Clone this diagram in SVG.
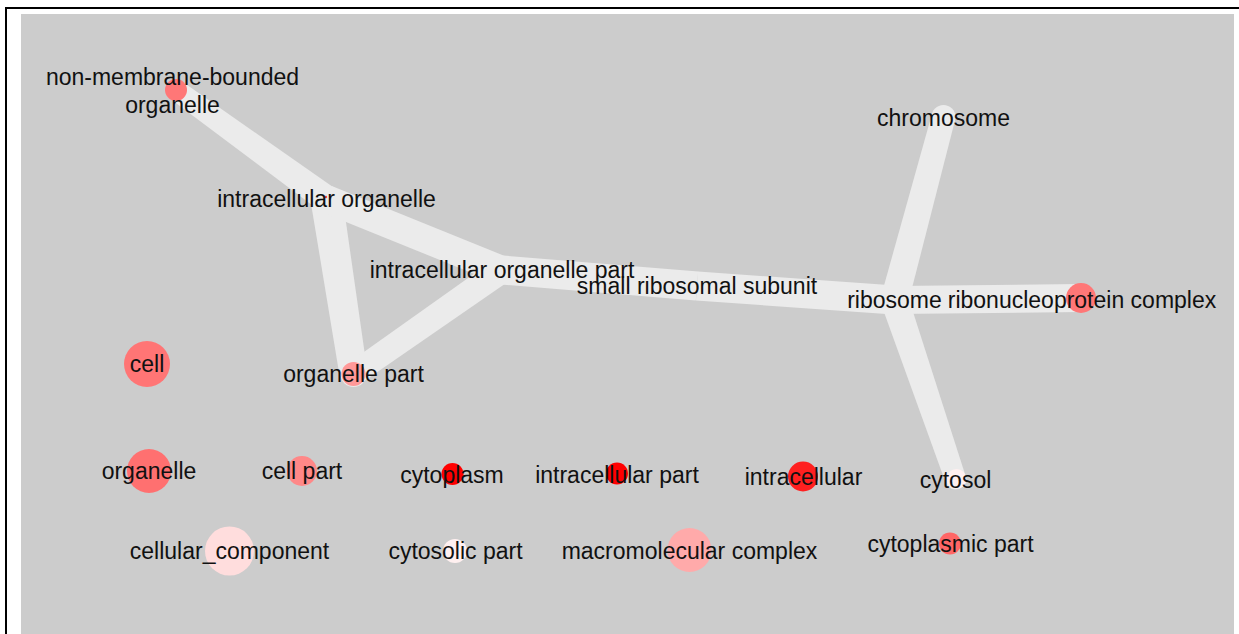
<svg xmlns="http://www.w3.org/2000/svg" width="1239" height="634" viewBox="0 0 1239 634">
  <style>
    .edge { fill: #ebebeb; stroke: none; }
    .lbl { font-family: "Liberation Sans", Arial, sans-serif; font-size: 23px; fill: #111111; text-anchor: middle; }
  </style>

  <!-- frame and canvas -->
  <rect x="6" y="8" width="1240" height="640" fill="#ffffff" stroke="#000000" stroke-width="2"/>
  <rect x="21" y="14" width="1213" height="630" fill="#cccccc"/>

  <!-- connectors: tapered bands, wider toward the hub nodes -->
  <g id="edges">
    <!-- non-membrane-bounded organelle - intracellular organelle -->
    <polygon class="edge" points="182.16,81.49 334.42,188.06 318.58,209.94 169.84,98.51"/>
    <circle class="edge" cx="176" cy="90" r="10.5"/>
    <!-- intracellular organelle - organelle part -->
    <polygon class="edge" points="310.69,201.44 342.31,196.56 367.34,371.86 339.66,376.14"/>
    <!-- intracellular organelle - intracellular organelle part -->
    <polygon class="edge" points="331.75,186.02 507.25,257.02 496.75,282.98 321.25,211.98"/>
    <!-- intracellular organelle part - organelle part -->
    <polygon class="edge" points="494.54,259.35 509.46,280.65 360.38,383.83 346.62,364.17"/>
    <circle class="edge" cx="353.5" cy="374" r="13"/>
    <!-- intracellular organelle part - small ribosomal subunit -->
    <polygon class="edge" points="503.19,255.55 698.19,271.55 695.81,300.45 500.81,284.45"/>
    <!-- small ribosomal subunit - ribosome -->
    <polygon class="edge" points="698.03,271.54 895.53,285.54 893.47,314.46 695.97,300.46"/>
    <!-- ribosome - ribonucleoprotein complex -->
    <polygon class="edge" points="894.35,286 1080.85,284 1081.15,312 894.65,314"/>
    <!-- chromosome - ribosome -->
    <polygon class="edge" points="931.91,113.9 955.09,120.1 908.02,303.62 880.98,296.38"/>
    <circle class="edge" cx="943.5" cy="117" r="12"/>
    <!-- ribosome - cytosol -->
    <polygon class="edge" points="881.25,304.52 907.75,295.48 965.44,475.61 945.56,482.39"/>
    <circle class="edge" cx="955.5" cy="479" r="10.5"/>
  </g>

  <!-- nodes -->
  <g id="node-non-membrane-bounded-organelle">
    <circle cx="176" cy="90" r="11" fill="#ff7777"/>
    <text class="lbl" x="172.5" y="85">non-membrane-bounded</text>
    <text class="lbl" x="172.5" y="113">organelle</text>
  </g>
  <g id="node-intracellular-organelle">
    <circle cx="326" cy="197" r="1.2" fill="#ff4444"/>
    <text class="lbl" x="326.5" y="207">intracellular organelle</text>
  </g>
  <g id="node-organelle-part">
    <circle cx="353.5" cy="374" r="12" fill="#ff9999"/>
    <text class="lbl" x="353.5" y="382">organelle part</text>
  </g>
  <g id="node-intracellular-organelle-part">
    <text class="lbl" x="502" y="278">intracellular organelle part</text>
  </g>
  <g id="node-small-ribosomal-subunit">
    <text class="lbl" x="697" y="294">small ribosomal subunit</text>
  </g>
  <g id="node-ribosome">
    <text class="lbl" x="894.5" y="308">ribosome</text>
  </g>
  <g id="node-ribonucleoprotein-complex">
    <circle cx="1081" cy="298" r="15" fill="#ff7777"/>
    <text class="lbl" x="1082" y="308">ribonucleoprotein complex</text>
  </g>
  <g id="node-chromosome">
    <text class="lbl" x="943.5" y="125.5">chromosome</text>
  </g>
  <g id="node-cytosol">
    <circle cx="956.5" cy="479" r="10" fill="#fff0f0"/>
    <text class="lbl" x="955.5" y="488">cytosol</text>
  </g>
  <g id="node-cell">
    <circle cx="147" cy="364" r="23" fill="#ff7575"/>
    <text class="lbl" x="147" y="372">cell</text>
  </g>
  <g id="node-organelle">
    <circle cx="149" cy="471" r="22" fill="#ff7070"/>
    <text class="lbl" x="149" y="479">organelle</text>
  </g>
  <g id="node-cell-part">
    <circle cx="302" cy="471" r="15" fill="#ff8888"/>
    <text class="lbl" x="302" y="479">cell part</text>
  </g>
  <g id="node-cytoplasm">
    <circle cx="452.5" cy="474" r="11" fill="#ff0000"/>
    <text class="lbl" x="452" y="482.5">cytoplasm</text>
  </g>
  <g id="node-intracellular-part">
    <circle cx="617" cy="473.5" r="11" fill="#ff0000"/>
    <text class="lbl" x="617" y="482.5">intracellular part</text>
  </g>
  <g id="node-intracellular">
    <circle cx="803" cy="476.5" r="15" fill="#ff2020"/>
    <text class="lbl" x="803.5" y="484.5">intracellular</text>
  </g>
  <g id="node-cellular-component">
    <circle cx="229.5" cy="551" r="24.5" fill="#ffdddd"/>
    <text class="lbl" x="229.5" y="558.5">cellular_component</text>
  </g>
  <g id="node-cytosolic-part">
    <circle cx="455" cy="551" r="12" fill="#fff0f0"/>
    <text class="lbl" x="455.5" y="559">cytosolic part</text>
  </g>
  <g id="node-macromolecular-complex">
    <circle cx="689.5" cy="550" r="22" fill="#ffaaaa"/>
    <text class="lbl" x="689.5" y="558.5">macromolecular complex</text>
  </g>
  <g id="node-cytoplasmic-part">
    <circle cx="950" cy="543.5" r="11" fill="#ff6666"/>
    <text class="lbl" x="950.5" y="552">cytoplasmic part</text>
  </g>
</svg>
